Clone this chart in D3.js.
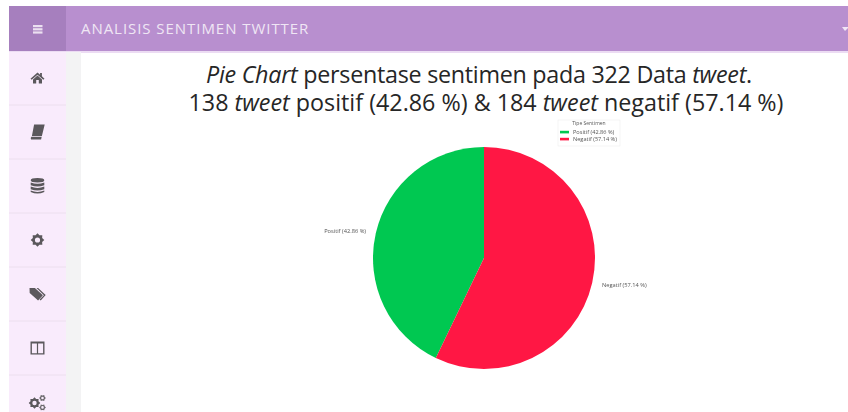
<!DOCTYPE html>
<html>
<head>
<meta charset="utf-8">
<script src="https://cdn.jsdelivr.net/npm/d3@7"></script>
<style>
html,body{margin:0;padding:0;background:#fff;overflow:hidden}
svg{display:block}
text{font-family:"Open Sans","Noto Sans",sans-serif}
</style>
</head>
<body>
<svg id="page" width="848" height="412"></svg>
<script>
// Sentiment counts
const categories = ["Positif", "Negatif"];
const tweetCounts = [138, 184];
const percentLabels = ["42.86 %", "57.14 %"];
const sliceColors = ["#00c851", "#ff1744"];
const legendTitle = "Tipe Sentimen";
const appTitle = "ANALISIS SENTIMEN TWITTER";
const menuIcons = ["home", "book", "database", "cog", "tags", "columns", "cogs"];

const svg = d3.select("#page");
const defs = svg.append("defs");
defs.append("filter").attr("id", "tiny").append("feGaussianBlur").attr("stdDeviation", 0.3);

/* ---------- page frame ---------- */
const frame = svg.append("g");
frame.append("rect").attr("x", 9).attr("y", 6).attr("width", 839).attr("height", 45).attr("fill", "#b88fcf");
frame.append("rect").attr("x", 9).attr("y", 51).attr("width", 839).attr("height", 2).attr("fill", "#ecdcf3");
frame.append("rect").attr("x", 9).attr("y", 6).attr("width", 57).attr("height", 45).attr("fill", "#a67fbe");
frame.append("rect").attr("x", 9).attr("y", 52).attr("width", 57).attr("height", 360).attr("fill", "#f9ebfc");
frame.append("rect").attr("x", 66).attr("y", 52).attr("width", 15).attr("height", 360).attr("fill", "#f3f3f4");

// Hamburger button
frame.append("g").attr("fill", "#ebe0f0").selectAll("rect").data(d3.range(3)).join("rect")
  .attr("x", 33).attr("y", d => 25 + d * 3.2).attr("width", 9.5).attr("height", 2.2);

// Top bar title and dropdown caret
frame.append("text").attr("x", 81).attr("y", 34).attr("font-size", 15)
  .attr("fill", "#efe6f4").attr("letter-spacing", 0.95).text(appTitle);
frame.append("path").attr("d", "M842,27h6v1l-3,3z").attr("fill", "#f1e6f6");

/* ---------- sidebar menu ---------- */
const menuY = d3.scalePoint().domain(menuIcons).range([78, 402]);
const step = menuY.step();

function gearPath(r, teeth) {
  const pts = [];
  for (let i = 0; i < teeth * 2; i++) {
    const a = (i / (teeth * 2)) * 2 * Math.PI;
    const rad = i % 2 ? r * 0.74 : r;
    pts.push([rad * Math.cos(a), rad * Math.sin(a)]);
  }
  return d3.line()(pts) + "Z M" + (r * 0.38) + ",0 A" + (r * 0.38) + "," + (r * 0.38) +
    " 0 1,0 " + (-r * 0.38) + ",0 A" + (r * 0.38) + "," + (r * 0.38) + " 0 1,0 " + (r * 0.38) + ",0Z";
}

const iconPaths = {
  home: ["M0,-5.6 L2.6,-3.2 V-5 H4.4 V-1.7 L7,0.8 L5.8,1.7 L0,-3.2 L-5.8,1.7 L-7,0.8Z M-4.5,1.4 L0,-2.5 L4.5,1.4 V5.4 H1.3 V2 H-1.3 V5.4 H-4.5Z"],
  book: ["M-3.4,-7.4 H7.2 L4.4,4 H-5.6 Z M-6,4.8 H4.2 L3.6,7.4 H-6.4 Q-7.4,6 -6,4.8Z"],
  database: ["M-6.8,-5.8 Q-6.8,-8 0,-8 Q6.8,-8 6.8,-5.8 Q6.8,-3.6 0,-3.6 Q-6.8,-3.6 -6.8,-5.8Z M-6.8,-3.6 Q0,-0.9 6.8,-3.6 V-0.8 Q0,1.8 -6.8,-0.8Z M-6.8,0.6 Q0,3.2 6.8,0.6 V3.2 Q0,5.8 -6.8,3.2Z M-6.8,4.6 Q0,7.2 6.8,4.6 V6 Q0,9 -6.8,6Z"],
  cog: [gearPath(6.8, 8)],
  tags: ["M-8,-6 H-2.6 L5.4,1.2 L0.6,6.4 L-7.8,-1Z", "M-1,-6 H0.6 L8.2,1 L3.2,6.4 L2,5.6 L6.4,1.2Z"],
  columns: ["M-7,-6.5 H7 V6.5 H-7Z M-5.6,-4.6 V5.2 H-0.6 V-4.6Z M0.6,-4.6 V5.2 H5.6 V-4.6Z"]
};

const menu = svg.append("g").selectAll("g").data(menuIcons).join("g")
  .attr("transform", d => `translate(37.5,${menuY(d)})`);

menu.append("line")
  .attr("x1", -28.5).attr("x2", 28.5)
  .attr("y1", step / 2).attr("y2", step / 2)
  .attr("stroke", "#ecdfee").attr("stroke-width", 1);

menu.filter(d => d !== "cogs").selectAll("path")
  .data(d => iconPaths[d]).join("path")
  .attr("d", d => d).attr("fill", "#5b585c").attr("fill-rule", "evenodd");

const cogs = menu.filter(d => d === "cogs");
cogs.append("path").attr("d", gearPath(5.8, 8)).attr("transform", "translate(-3,1)")
  .attr("fill", "#5b585c").attr("fill-rule", "evenodd");
cogs.append("path").attr("d", gearPath(3.4, 6)).attr("transform", "translate(5,-4)")
  .attr("fill", "#6b686c").attr("fill-rule", "evenodd");
cogs.append("path").attr("d", gearPath(3.4, 6)).attr("transform", "translate(5,5.4)")
  .attr("fill", "#6b686c").attr("fill-rule", "evenodd");

/* ---------- heading ---------- */
const total = d3.sum(tweetCounts);
const heading = svg.append("g").attr("fill", "#262626").attr("font-size", 23.3).attr("text-anchor", "middle");
const line1 = heading.append("text").attr("x", 479).attr("y", 83).attr("letter-spacing", -0.27);
line1.append("tspan").attr("font-style", "italic").text("Pie Chart");
line1.append("tspan").text(` persentase sentimen pada ${total} Data `);
line1.append("tspan").attr("font-style", "italic").text("tweet");
line1.append("tspan").text(".");
const line2 = heading.append("text").attr("x", 486).attr("y", 111);
line2.append("tspan").text(`${tweetCounts[0]} `);
line2.append("tspan").attr("font-style", "italic").text("tweet");
line2.append("tspan").text(` positif (${percentLabels[0]}) & ${tweetCounts[1]} `);
line2.append("tspan").attr("font-style", "italic").text("tweet");
line2.append("tspan").text(` negatif (${percentLabels[1]})`);

/* ---------- pie ---------- */
const cx = 484, cy = 258, radius = 111;
const color = d3.scaleOrdinal().domain(categories).range(sliceColors);
// Slices run counter-clockwise from twelve o'clock, Positif first
const pie = d3.pie().sort(null).startAngle(2 * Math.PI).endAngle(0);
const arc = d3.arc().innerRadius(0).outerRadius(radius);
const arcs = pie(tweetCounts);

const chart = svg.append("g").attr("transform", `translate(${cx},${cy})`);
chart.selectAll("path").data(arcs).join("path")
  .attr("d", arc)
  .attr("fill", (d, i) => color(categories[i]));

// Slice labels sit outside the rim
const labelArc = d3.arc().innerRadius(radius + 10).outerRadius(radius + 10);
chart.selectAll("text").data(arcs).join("text")
  .attr("x", d => labelArc.centroid(d)[0])
  .attr("y", d => labelArc.centroid(d)[1])
  .attr("dy", "0.35em")
  .attr("text-anchor", d => labelArc.centroid(d)[0] < 0 ? "end" : "start")
  .attr("font-size", 5.7)
  .attr("fill", "#555")
  .attr("filter", "url(#tiny)")
  .text((d, i) => `${categories[i]} (${percentLabels[i]})`);

/* ---------- legend ---------- */
const legend = svg.append("g").attr("transform", "translate(558,120)");
legend.append("rect").attr("width", 62).attr("height", 26).attr("fill", "#fff")
  .attr("stroke", "#f0f0f0").attr("stroke-width", 0.7);
legend.append("text").attr("x", 31).attr("y", 5).attr("text-anchor", "middle")
  .attr("font-size", 5).attr("fill", "#555").attr("filter", "url(#tiny)").text(legendTitle);
const rowY = d3.scalePoint().domain(categories).range([12, 19]);
const rows = legend.selectAll("g.row").data(categories).join("g").attr("class", "row")
  .attr("transform", d => `translate(2,${rowY(d)})`);
rows.append("rect").attr("y", -1.2).attr("width", 9).attr("height", 2.6).attr("fill", d => color(d));
rows.append("text").attr("x", 13).attr("y", 1.9).attr("font-size", 5.6).attr("fill", "#555")
  .attr("filter", "url(#tiny)")
  .text((d, i) => `${d} (${percentLabels[i]})`);
</script>
</body>
</html>
